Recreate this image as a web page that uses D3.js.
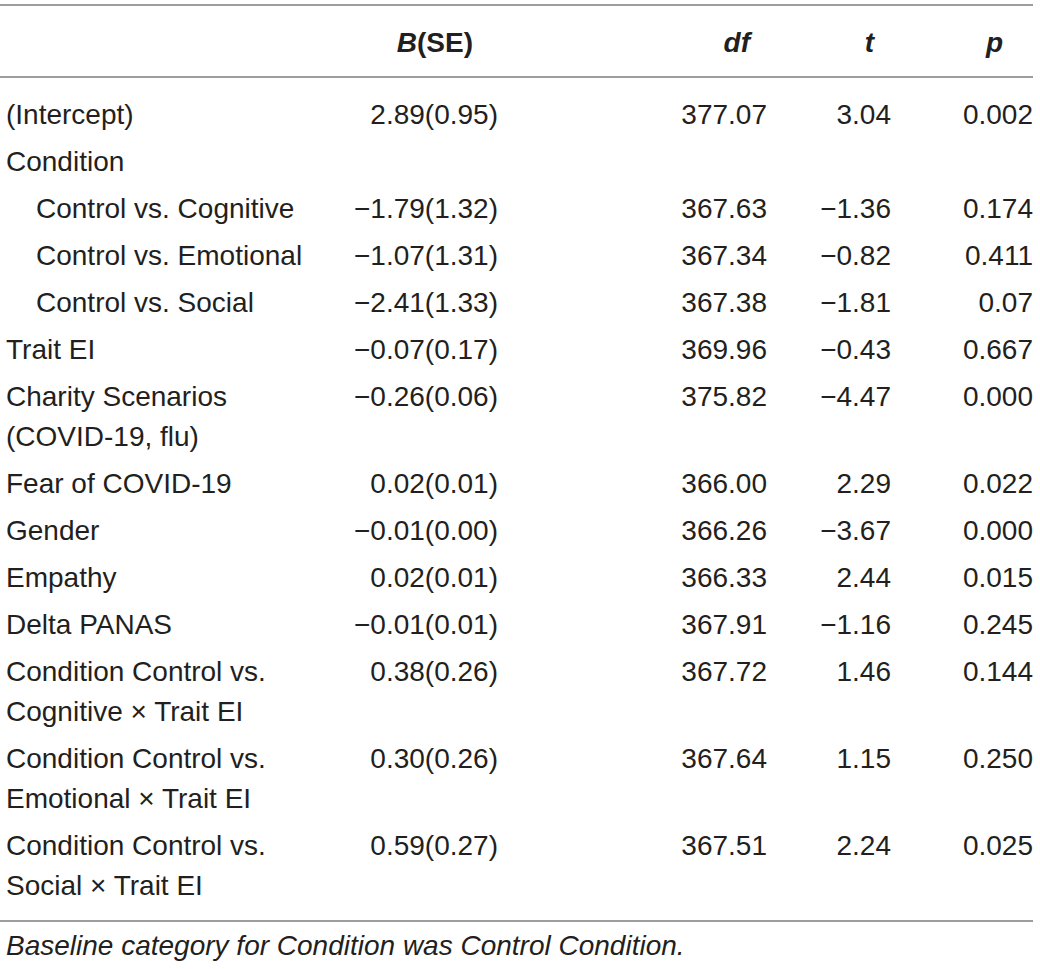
<!DOCTYPE html>
<html>
<head>
<meta charset="utf-8">
<script src="https://cdn.jsdelivr.net/npm/d3@7"></script>
<style>
  body { margin: 0; background: #fff; }
  text { font-family: "Liberation Sans", Arial, sans-serif; fill: #231f20; }
</style>
</head>
<body>
<div id="container"></div>
<script>
// table values
const headers = ["B(SE)", "df", "t", "p"]

const terms = [
  ["(Intercept)"],
  ["Condition"],
  ["Control vs. Cognitive"],
  ["Control vs. Emotional"],
  ["Control vs. Social"],
  ["Trait EI"],
  ["Charity Scenarios", "(COVID-19, flu)"],
  ["Fear of COVID-19"],
  ["Gender"],
  ["Empathy"],
  ["Delta PANAS"],
  ["Condition Control vs.", "Cognitive \u00d7 Trait EI"],
  ["Condition Control vs.", "Emotional \u00d7 Trait EI"],
  ["Condition Control vs.", "Social \u00d7 Trait EI"]
]
const subLevel = [0, 0, 1, 1, 1, 0, 0, 0, 0, 0, 0, 0, 0, 0]

const estB  = [2.89, null, -1.79, -1.07, -2.41, -0.07, -0.26, 0.02, -0.01, 0.02, -0.01, 0.38, 0.30, 0.59]
const estSE = [0.95, null, 1.32, 1.31, 1.33, 0.17, 0.06, 0.01, 0.00, 0.01, 0.01, 0.26, 0.26, 0.27]
const dfVals = [377.07, null, 367.63, 367.34, 367.38, 369.96, 375.82, 366.00, 366.26, 366.33, 367.91, 367.72, 367.64, 367.51]
const tVals  = [3.04, null, -1.36, -0.82, -1.81, -0.43, -4.47, 2.29, -3.67, 2.44, -1.16, 1.46, 1.15, 2.24]
const pVals  = ["0.002", null, "0.174", "0.411", "0.07", "0.667", "0.000", "0.022", "0.000", "0.015", "0.245", "0.144", "0.250", "0.025"]

const footnote = "Baseline category for Condition was Control Condition."

// layout
const width = 1040, height = 969
const fontSize = 28
const rowStep = 47, lineStep = 40
const lineColor = "#9d9d9d"

const svg = d3.select("#container")
  .append("svg")
  .attr("width", width)
  .attr("height", height)

// column right edges
const colX = d3.scaleOrdinal()
  .domain(headers)
  .range([498, 767, 891, 1033])
const headerShift = { "B(SE)": -25, "df": -17, "t": -17, "p": -30 }

// vertical position: rows and extra wrapped lines
let extra = 0
const rowStart = terms.map(lines => {
  const u = extra
  extra += lines.length - 1
  return u
})
const yScale = d3.scaleLinear().domain([0, 1]).range([124, 124 + rowStep])
const rowY = i => yScale(i) + rowStart[i] * lineStep

const fmt = d3.format(".2f")
const minus = s => s.replace("-", "\u2212")

// rules
const rules = [5, 77, 921]
svg.selectAll(".rule")
  .data(rules)
  .join("line")
  .attr("class", "rule")
  .attr("x1", 0)
  .attr("x2", 1033)
  .attr("y1", d => d)
  .attr("y2", d => d)
  .attr("stroke", lineColor)
  .attr("stroke-width", 2)

// header
const head = svg.selectAll(".head")
  .data(headers)
  .join("text")
  .attr("class", "head")
  .attr("x", d => colX(d) + headerShift[d])
  .attr("y", 52)
  .attr("text-anchor", "end")
  .attr("font-size", fontSize)
  .attr("font-weight", "bold")

head.each(function (d) {
  const t = d3.select(this)
  if (d === "B(SE)") {
    t.append("tspan").attr("font-style", "italic").text("B")
    t.append("tspan").text("(SE)")
  } else {
    t.append("tspan").attr("font-style", "italic").text(d)
  }
})

// term labels
const rows = svg.selectAll(".row")
  .data(terms)
  .join("g")
  .attr("class", "row")
  .attr("transform", (d, i) => `translate(0, ${rowY(i)})`)

rows.selectAll(".label")
  .data((d, i) => d.map(s => ({ s, lvl: subLevel[i] })))
  .join("text")
  .attr("class", "label")
  .attr("x", d => 6 + d.lvl * 30)
  .attr("y", (d, j) => j * lineStep)
  .attr("font-size", fontSize)
  .text(d => d.s)

// numeric cells
const cells = terms.map((d, i) => [
  { col: "B(SE)", v: estB[i] == null ? null : minus(fmt(estB[i])) + "(" + fmt(estSE[i]) + ")" },
  { col: "df", v: dfVals[i] == null ? null : fmt(dfVals[i]) },
  { col: "t", v: tVals[i] == null ? null : minus(fmt(tVals[i])) },
  { col: "p", v: pVals[i] }
].filter(c => c.v != null))

rows.selectAll(".cell")
  .data((d, i) => cells[i])
  .join("text")
  .attr("class", "cell")
  .attr("x", d => colX(d.col))
  .attr("text-anchor", "end")
  .attr("font-size", fontSize)
  .text(d => d.v)

// note
svg.append("text")
  .attr("x", 6)
  .attr("y", 955)
  .attr("font-size", fontSize)
  .attr("font-style", "italic")
  .text(footnote)
</script>
</body>
</html>
